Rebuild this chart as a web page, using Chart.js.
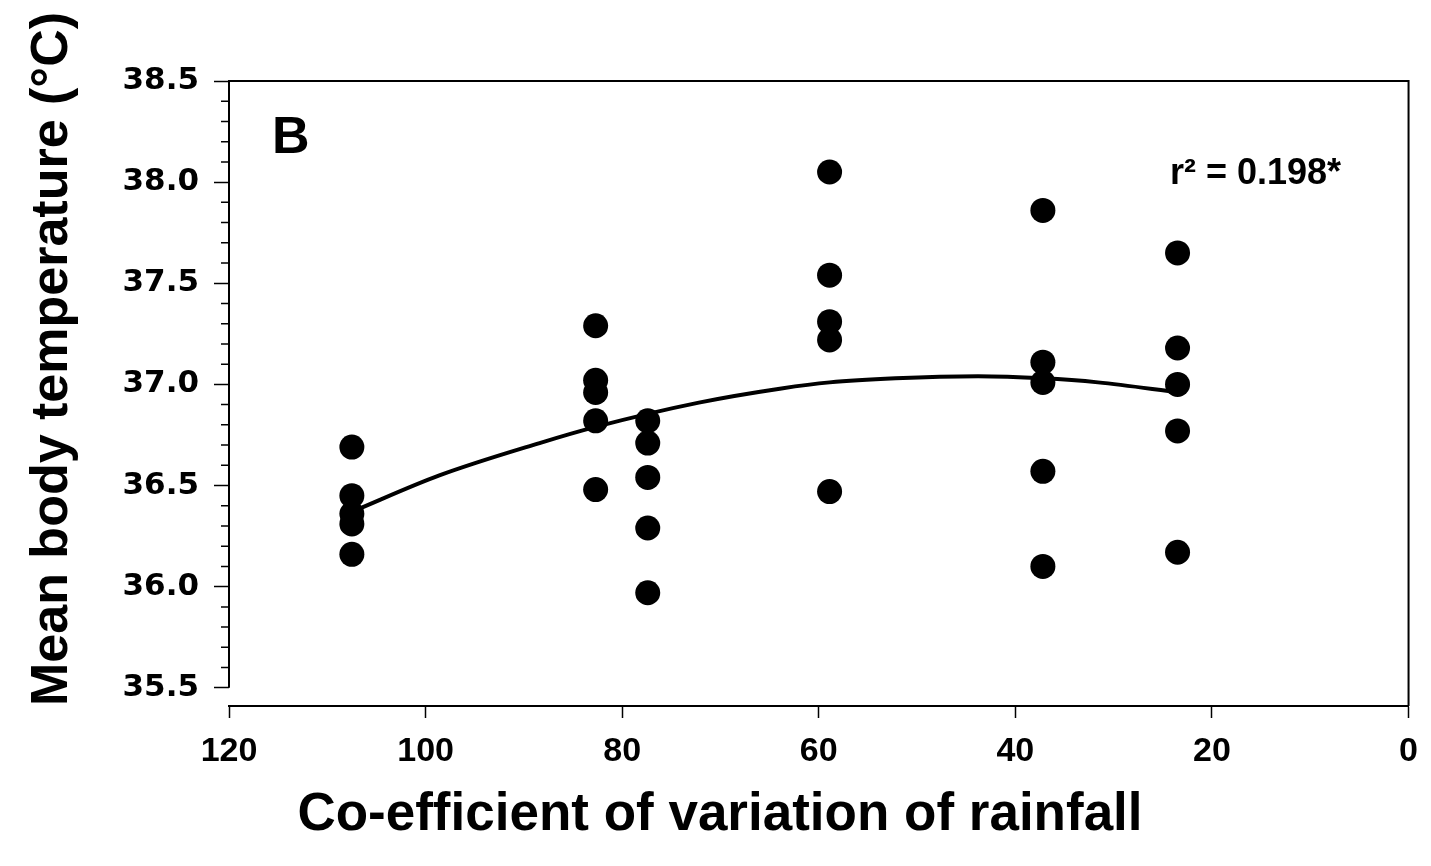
<!DOCTYPE html>
<html>
<head>
<meta charset="utf-8">
<title>Body temperature vs rainfall variation</title>
<script src="https://cdn.jsdelivr.net/npm/chart.js@4/dist/chart.umd.min.js"></script>
<style>
  html, body { margin: 0; padding: 0; background: #fff; }
  #wrap { width: 1431px; height: 866px; }
</style>
</head>
<body>
<div id="wrap"><canvas id="chart" width="1431" height="866"></canvas></div>
<script>
// Coefficient of variation of rainfall for each site (x)
const siteCV = [107.5, 82.7, 77.4, 58.9, 37.2, 23.5];

// Mean body temperature values at each site (one array per column of dots)
const temps107 = [36.69, 36.45, 36.36, 36.31, 36.16];
const temps83 = [37.29, 37.02, 36.96, 36.82, 36.48];
const temps77 = [36.82, 36.71, 36.54, 36.29, 35.97];
const temps59 = [38.05, 37.54, 37.31, 37.22, 36.47];
const temps37 = [37.86, 37.11, 37.01, 36.57, 36.10];
const temps23 = [37.65, 37.18, 37.00, 36.77, 36.17];

// Fitted curve, read at points along the line
const fitX = [107.5, 98.6, 88.4, 82.7, 72.2, 63.8, 58.9, 52.2, 43.8, 37.2, 31.6, 23.3];
const fitY = [36.37, 36.55, 36.71, 36.79, 36.91, 36.98, 37.01, 37.03, 37.04, 37.03, 37.01, 36.96];

// Axis ticks
const xTicks = [120, 100, 80, 60, 40, 20, 0];
const yTicks = [35.5, 36.0, 36.5, 37.0, 37.5, 38.0, 38.5];

const panelLabel = 'B';
const statLabel = 'r\u00B2 = 0.198*';
const xTitle = 'Co-efficient of variation of rainfall';
const yTitle = 'Mean body temperature (\u00B0C)';

const groups = [temps107, temps83, temps77, temps59, temps37, temps23];
const dots = [];
groups.forEach((g, i) => g.forEach(t => dots.push({ x: siteCV[i], y: t })));
const fitLine = fitX.map((x, i) => ({ x: x, y: fitY[i] }));

const tickFont = "'DejaVu Sans', 'Liberation Sans', Arial, sans-serif";
const narrowFont = "'Liberation Sans Narrow', 'Liberation Sans', Arial, sans-serif";
const textFont = "'Liberation Sans', Arial, sans-serif";

// frame, minor ticks and free text
const extras = {
  id: 'extras',
  afterDraw(chart) {
    const ctx = chart.ctx;
    const a = chart.chartArea;
    const y = chart.scales.y;
    const yTop = y.getPixelForValue(38.5);
    const yBot = y.getPixelForValue(35.5);
    ctx.save();
    ctx.strokeStyle = '#000';
    ctx.lineWidth = 2;
    ctx.beginPath();
    ctx.moveTo(a.left, yBot);
    ctx.lineTo(a.left, yTop);
    ctx.lineTo(a.right, yTop);
    ctx.lineTo(a.right, a.bottom);
    ctx.stroke();

    // minor y ticks every 0.1
    ctx.lineWidth = 1.5;
    ctx.beginPath();
    for (let k = 356; k < 385; k++) {
      if (k % 5 === 0) continue;
      const py = y.getPixelForValue(k / 10);
      ctx.moveTo(a.left - 8, py);
      ctx.lineTo(a.left, py);
    }
    ctx.stroke();

    ctx.fillStyle = '#000';
    ctx.textBaseline = 'alphabetic';
    ctx.textAlign = 'left';
    ctx.font = 'bold 52px ' + textFont;
    ctx.fillText(panelLabel, a.left + 43, 153);

    ctx.font = 'bold 36px ' + textFont;
    ctx.fillText(statLabel, 1170, 184);

    ctx.textAlign = 'center';
    ctx.textBaseline = 'middle';
    ctx.font = 'bold 53px ' + textFont;
    ctx.fillText(xTitle, 720, 815);
    ctx.restore();
  }
};

new Chart(document.getElementById('chart'), {
  type: 'scatter',
  data: {
    datasets: [
      {
        label: 'Sites',
        data: dots,
        pointRadius: 12.5,
        pointHoverRadius: 12.5,
        pointBackgroundColor: '#000',
        pointBorderWidth: 0,
        showLine: false
      },
      {
        label: 'Fit',
        data: fitLine,
        showLine: true,
        borderColor: '#000',
        borderWidth: 4,
        pointRadius: 0,
        cubicInterpolationMode: 'monotone',
        fill: false
      }
    ]
  },
  options: {
    responsive: false,
    animation: false,
    layout: { padding: { left: 0, top: 81, right: 20, bottom: 0 } },
    plugins: {
      legend: { display: false },
      tooltip: { enabled: false }
    },
    scales: {
      x: {
        type: 'linear',
        reverse: true,
        min: 0,
        max: 120,
        afterBuildTicks: s => { s.ticks = xTicks.map(v => ({ value: v })); },
        afterFit: s => { s.height = 160; },
        border: { display: true, color: '#000', width: 2 },
        grid: { drawOnChartArea: false, drawTicks: true, tickLength: 12, tickColor: '#000', tickWidth: 1.5 },
        ticks: {
          color: '#000',
          padding: 13,
          maxRotation: 0,
          font: { family: narrowFont, size: 34, weight: 'bold' }
        },
        title: { display: false }
      },
      y: {
        type: 'linear',
        min: 35.41,
        max: 38.5,
        afterBuildTicks: s => { s.ticks = yTicks.map(v => ({ value: v })); },
        afterFit: s => { s.width = 229; },
        border: { display: false },
        grid: { drawOnChartArea: false, drawTicks: true, tickLength: 15, tickColor: '#000', tickWidth: 1.5 },
        ticks: {
          color: '#000',
          padding: 15,
          callback: v => v.toFixed(1),
          font: { family: tickFont, size: 31, weight: 'bold' }
        },
        title: {
          display: true,
          text: yTitle,
          align: 'start',
          color: '#000',
          padding: { top: 21, bottom: 0 },
          font: { family: textFont, size: 52, weight: 'bold' }
        }
      }
    }
  },
  plugins: [extras]
});
</script>
</body>
</html>
